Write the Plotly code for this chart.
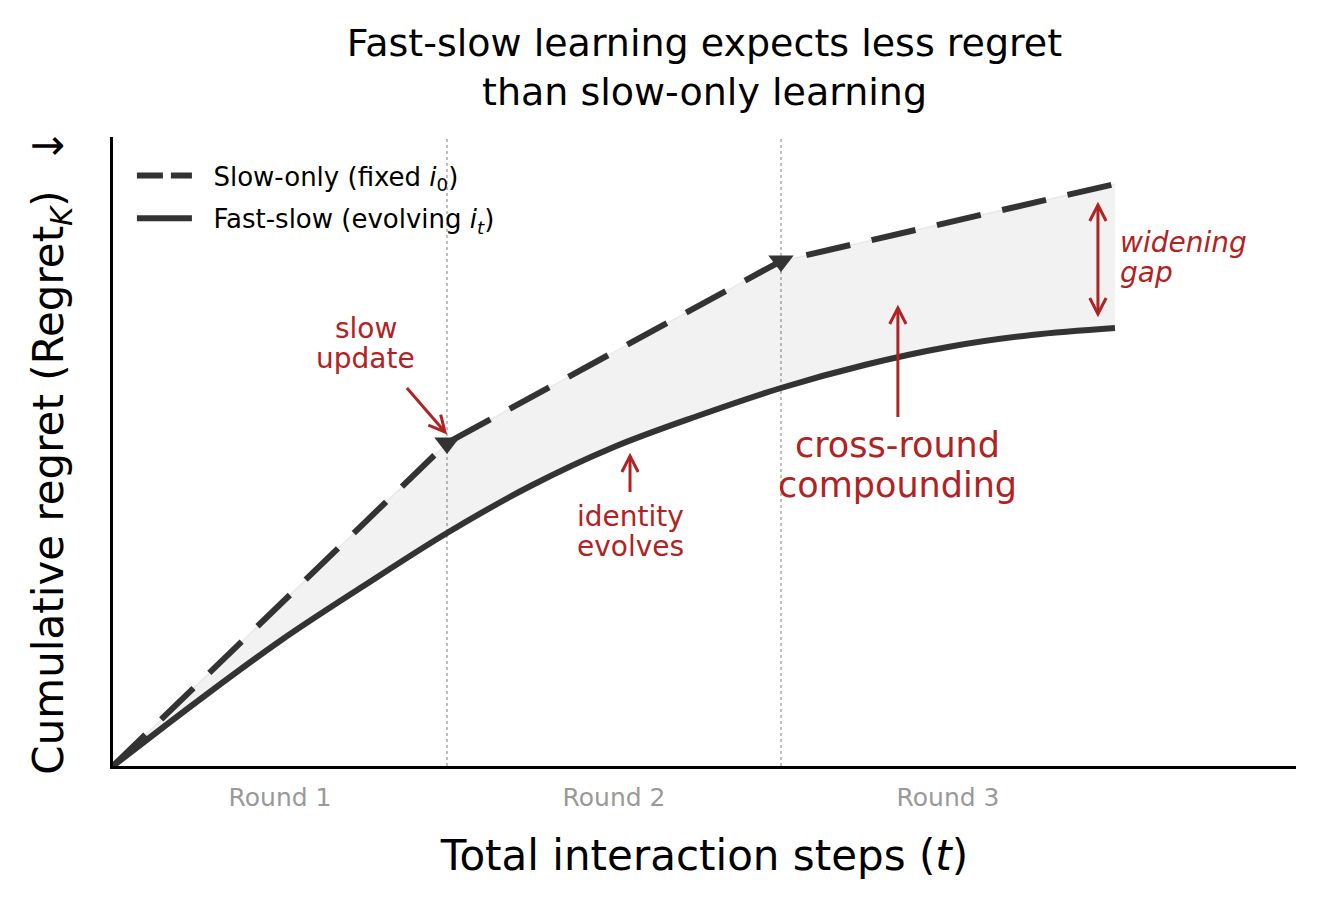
import math
import plotly.graph_objects as go

# ---------------- data ----------------
ROUND_X = [0, 1, 2, 3]                      # round boundaries (slow updates)
SLOW_ONLY = [0.0, 3.23, 5.05, 5.82]         # slow-only cumulative regret
FAST_X = [0, 0.25, 0.5, 0.75, 1.0, 1.25, 1.5, 1.75, 2.0, 2.25, 2.5, 2.75, 3.0]
FAST_SLOW = [0.0, 0.64, 1.25, 1.80, 2.33, 2.80, 3.19, 3.50, 3.78, 4.01, 4.19, 4.31, 4.38]
UPDATE_IDX = [1, 2]                         # where slow updates are marked
ROUND_TICKS = [0.5, 1.5, 2.5]
ROUND_LABELS = ["Round 1", "Round 2", "Round 3"]
DIVIDERS = [1, 2]

X_MAX = 3.542
Y_MAX = 6.29

# ---------------- layout constants ----------------
W, H = 1326, 898
ML, MR, MT, MB = 113, 30, 137, 132
PW, PH = W - ML - MR, H - MT - MB
SX, SY = PW / X_MAX, PH / Y_MAX   # px per data unit

DARK = "#333333"
RED = "#b22222"
FONT = "DejaVu Sans"
NB = "\u00a0"

fig = go.Figure()

# fill between curves
fig.add_trace(go.Scatter(x=FAST_X, y=FAST_SLOW, mode="lines", line=dict(width=0, shape="spline", smoothing=1.0),
                         showlegend=False, hoverinfo="skip"))
fig.add_trace(go.Scatter(x=ROUND_X, y=SLOW_ONLY, mode="lines", fill="tonexty",
                         fillcolor="rgba(0,0,0,0.05)", line=dict(width=1.5, color="rgba(0,0,0,0.06)"),
                         showlegend=False, hoverinfo="skip"))

# curves
fig.add_trace(go.Scatter(x=FAST_X, y=FAST_SLOW, mode="lines",
                         line=dict(color=DARK, width=6, shape="spline", smoothing=1.0),
                         showlegend=False))
fig.add_trace(go.Scatter(x=ROUND_X, y=SLOW_ONLY, mode="lines",
                         line=dict(color=DARK, width=6, dash="45px,22px"),
                         showlegend=False))
fig.add_trace(go.Scatter(x=[ROUND_X[i] for i in UPDATE_IDX], y=[SLOW_ONLY[i] for i in UPDATE_IDX],
                         mode="markers", marker=dict(symbol="triangle-down", size=22, color=DARK,
                                                     line=dict(width=0)),
                         showlegend=False))

# legend entries
fig.add_trace(go.Scatter(x=[None], y=[None], mode="lines",
                         name=NB + NB + "Slow-only (fixed <i>i</i><sub>0</sub>)",
                         line=dict(color=DARK, width=6, dash="26px,8px"), legendgroup="a"))
fig.add_trace(go.Scatter(x=[None], y=[None], mode="lines",
                         name=NB + NB + "Fast-slow (evolving <i>i<sub>t</sub></i>)",
                         line=dict(color=DARK, width=6), legendgroup="b"))

shapes = []
for d in DIVIDERS:
    shapes.append(dict(type="line", xref="x", yref="y", x0=d, x1=d, y0=0, y1=Y_MAX, layer="below",
                       line=dict(color="#aaaaaa", width=1.5, dash="dot")))


def to_px(x, y):
    return x * SX, y * SY


def to_data(px, py):
    return px / SX, py / SY


def head(tx, ty, fx, fy, L=18, ang=27):
    """chevron at (tx,ty) pointing away from (fx,fy)"""
    tpx, tpy = to_px(tx, ty)
    fpx, fpy = to_px(fx, fy)
    dx, dy = fpx - tpx, fpy - tpy
    n = math.hypot(dx, dy)
    ux, uy = dx / n, dy / n
    pts = []
    for s in (1, -1):
        a = math.radians(ang) * s
        rx = ux * math.cos(a) - uy * math.sin(a)
        ry = ux * math.sin(a) + uy * math.cos(a)
        pts.append(to_data(tpx + rx * L, tpy + ry * L))
    return f"M{pts[0][0]},{pts[0][1]} L{tx},{ty} L{pts[1][0]},{pts[1][1]}"


def arrow(x0, y0, x1, y1, both=False):
    shapes.append(dict(type="line", xref="x", yref="y", x0=x0, y0=y0, x1=x1, y1=y1,
                       line=dict(color=RED, width=3)))
    shapes.append(dict(type="path", xref="x", yref="y", path=head(x1, y1, x0, y0),
                       line=dict(color=RED, width=3)))
    if both:
        shapes.append(dict(type="path", xref="x", yref="y", path=head(x0, y0, x1, y1),
                           line=dict(color=RED, width=3)))


arrow(0.880, 3.78, 0.994, 3.34)          # slow update
arrow(1.548, 2.74, 1.548, 3.10)          # identity evolves
arrow(2.350, 3.49, 2.350, 4.58)          # cross-round compounding
arrow(2.949, 4.52, 2.949, 5.61, both=True)  # widening gap

annotations = []


def txt(x, y, s, size, anchor="center", italic=False):
    if italic:
        s = f"<i>{s}</i>"
    annotations.append(dict(x=x, y=y, xref="x", yref="y", text=s, showarrow=False,
                            xanchor=anchor, yanchor="middle",
                            font=dict(family=FONT, size=size, color=RED)))


txt(0.757, 4.38, "slow", 28)
txt(0.757, 4.08, "update", 28)
txt(1.548, 2.50, "identity", 28)
txt(1.548, 2.20, "evolves", 28)
txt(2.350, 3.21, "cross-round", 35)
txt(2.350, 2.81, "compounding", 35)
txt(3.008, 5.24, "widening", 28, anchor="left", italic=True)
txt(3.008, 4.94, "gap", 28, anchor="left", italic=True)

fig.update_layout(
    width=W, height=H,
    margin=dict(l=ML, r=MR, t=MT, b=MB, autoexpand=False),
    paper_bgcolor="white", plot_bgcolor="white",
    font=dict(family=FONT, color="black"),
    title=dict(text="Fast-slow learning expects less regret<br>than slow-only learning",
               x=0.5, xref="paper", xanchor="center",
               y=1 - 56 / H, yref="container", yanchor="middle",
               font=dict(family=FONT, size=38, color="black")),
    xaxis=dict(range=[0, X_MAX], showgrid=False, zeroline=False, showline=True,
               linecolor="black", linewidth=2.5, tickmode="array", tickvals=ROUND_TICKS,
               ticktext=ROUND_LABELS, ticks="outside", ticklen=7, tickcolor="rgba(0,0,0,0)",
               tickfont=dict(family=FONT, size=25, color="#999999"),
               title=dict(text="Total interaction steps (<i>t</i>)", standoff=30,
                          font=dict(family=FONT, size=42, color="black")),
               automargin=False),
    yaxis=dict(range=[0, Y_MAX], showgrid=False, zeroline=False, showline=True,
               linecolor="black", linewidth=2.5, showticklabels=False, ticks="",
               title=dict(text="Cumulative regret (Regret<sub><i>K</i></sub>)  ↓", standoff=34,
                          font=dict(family=FONT, size=42, color="black")),
               automargin=False),
    legend=dict(x=0.016, y=0.976, xanchor="left", yanchor="top", bgcolor="rgba(0,0,0,0)",
                font=dict(family=FONT, size=26, color="black"), itemwidth=55,
                traceorder="grouped", tracegroupgap=6),
    shapes=shapes,
    annotations=annotations,
)

fig.write_html("out.html", config={"displayModeBar": False},
               post_script="document.body.style.margin='0';")
